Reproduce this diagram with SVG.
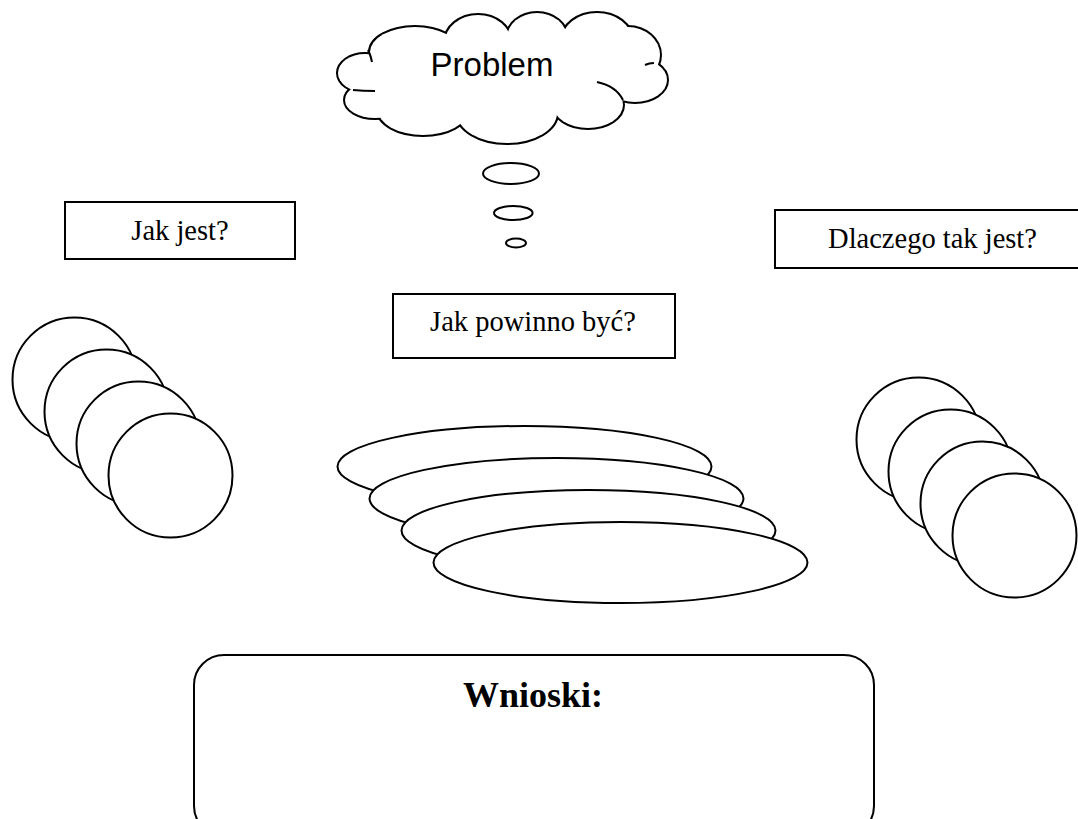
<svg xmlns="http://www.w3.org/2000/svg" width="1078" height="819" viewBox="0 0 1078 819">
<style>
.sh{fill:#fff;stroke:#000;stroke-width:2}
.box{fill:#fff;stroke:#000;stroke-width:2}
.lbl{font-family:"Liberation Serif","Times New Roman",serif;font-size:28.5px;fill:#000;text-anchor:middle}
.cl{fill:#fff;stroke:#000;stroke-width:4}
.cf{fill:#fff;stroke:none}
.cr{fill:none;stroke:#000;stroke-width:2}
</style>
<rect width="1078" height="819" fill="#fff"/>

<g id="problem-cloud">
  <g class="cl">
    <ellipse cx="365" cy="73" rx="27" ry="19"/>
    <ellipse cx="415" cy="52" rx="45" ry="25"/>
    <ellipse cx="478" cy="42" rx="33" ry="27"/>
    <ellipse cx="537" cy="38" rx="30" ry="25"/>
    <ellipse cx="597" cy="40" rx="35" ry="27"/>
    <ellipse cx="628" cy="55" rx="32" ry="28"/>
    <ellipse cx="635" cy="80" rx="32" ry="22"/>
    <ellipse cx="588" cy="105" rx="35" ry="23"/>
    <ellipse cx="507" cy="113" rx="50" ry="30"/>
    <ellipse cx="423" cy="110" rx="45" ry="25"/>
    <ellipse cx="375" cy="100" rx="30" ry="18"/>
  </g>
  <g class="cf">
    <ellipse cx="365" cy="73" rx="27" ry="19"/>
    <ellipse cx="415" cy="52" rx="45" ry="25"/>
    <ellipse cx="478" cy="42" rx="33" ry="27"/>
    <ellipse cx="537" cy="38" rx="30" ry="25"/>
    <ellipse cx="597" cy="40" rx="35" ry="27"/>
    <ellipse cx="628" cy="55" rx="32" ry="28"/>
    <ellipse cx="635" cy="80" rx="32" ry="22"/>
    <ellipse cx="588" cy="105" rx="35" ry="23"/>
    <ellipse cx="507" cy="113" rx="50" ry="30"/>
    <ellipse cx="423" cy="110" rx="45" ry="25"/>
    <ellipse cx="375" cy="100" rx="30" ry="18"/>
    <ellipse cx="505" cy="75" rx="140" ry="38"/>
  </g>
  <path class="cr" d="M353 90 Q363 91 375 91"/>
  <path class="cr" d="M597 82 Q616 86 623 100"/>
  <path class="cr" d="M368 50 Q371 56 372 62"/>
  <path class="cr" d="M645 65 Q649 63 654 63"/>
  <text x="492" y="76" font-family="Liberation Sans, Arial, sans-serif" font-size="33" text-anchor="middle" fill="#000">Problem</text>
</g>

<g id="thought-bubbles">
  <ellipse class="sh" cx="511" cy="173.5" rx="28" ry="10.5"/>
  <ellipse class="sh" cx="513.3" cy="213" rx="19.3" ry="7"/>
  <ellipse class="sh" cx="516" cy="243" rx="10" ry="4.5"/>
</g>

<g id="jak-jest">
  <rect class="box" x="65" y="202" width="230" height="57"/>
  <text class="lbl" x="180" y="240">Jak jest?</text>
</g>

<g id="dlaczego">
  <rect class="box" x="775" y="210" width="320" height="58"/>
  <text class="lbl" x="932.5" y="248">Dlaczego tak jest?</text>
</g>

<g id="jak-powinno">
  <rect class="box" x="393" y="294" width="282" height="64"/>
  <text class="lbl" x="533" y="331">Jak powinno być?</text>
</g>

<g id="left-circles">
  <circle class="sh" cx="74.5" cy="379.5" r="62"/>
  <circle class="sh" cx="106.5" cy="411.5" r="62"/>
  <circle class="sh" cx="138.5" cy="443.5" r="62"/>
  <circle class="sh" cx="170.5" cy="475.5" r="62"/>
</g>

<g id="center-ellipses">
  <ellipse class="sh" cx="524.5" cy="466.5" rx="187" ry="40.5"/>
  <ellipse class="sh" cx="556.5" cy="498.5" rx="187" ry="40.5"/>
  <ellipse class="sh" cx="588.5" cy="530.5" rx="187" ry="40.5"/>
  <ellipse class="sh" cx="620.5" cy="562.5" rx="187" ry="40.5"/>
</g>

<g id="right-circles">
  <circle class="sh" cx="918.5" cy="439.5" r="62"/>
  <circle class="sh" cx="950.5" cy="471.5" r="62"/>
  <circle class="sh" cx="982.5" cy="503.5" r="62"/>
  <circle class="sh" cx="1014.5" cy="535.5" r="62"/>
</g>

<g id="wnioski">
  <rect class="box" x="194" y="655" width="680" height="181" rx="30" ry="30"/>
  <text x="533" y="707" font-family="Liberation Serif, Times New Roman, serif" font-size="36" font-weight="bold" text-anchor="middle" fill="#000">Wnioski:</text>
</g>

<g id="connectors"></g>
</svg>
